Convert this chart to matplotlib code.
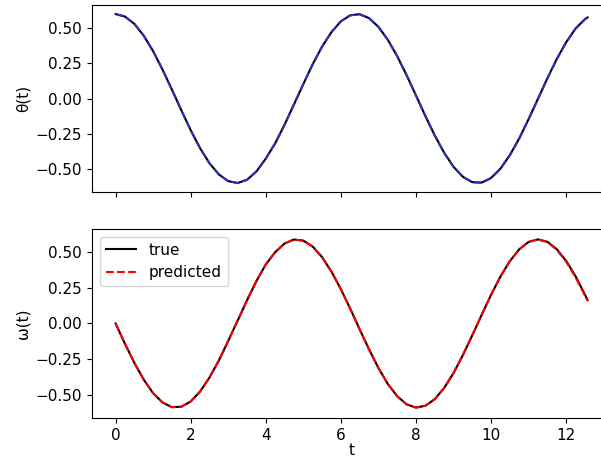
import matplotlib
matplotlib.use('Agg')
import matplotlib.pyplot as plt

# time samples and values
t = [0.0, 0.25, 0.5, 0.75, 1.0, 1.25, 1.5, 1.75, 2.0, 2.25, 2.5, 2.75, 3.0,
     3.25, 3.5, 3.75, 4.0, 4.25, 4.5, 4.75, 5.0, 5.25, 5.5, 5.75, 6.0, 6.25,
     6.5, 6.75, 7.0, 7.25, 7.5, 7.75, 8.0, 8.25, 8.5, 8.75, 9.0, 9.25, 9.5,
     9.75, 10.0, 10.25, 10.5, 10.75, 11.0, 11.25, 11.5, 11.75, 12.0, 12.25,
     12.5, 12.57]

theta_true = [0.600, 0.582, 0.530, 0.446, 0.336, 0.205, 0.063, -0.083, -0.225,
              -0.353, -0.460, -0.539, -0.587, -0.600, -0.577, -0.518, -0.427,
              -0.318, -0.186, -0.042, 0.103, 0.244, 0.369, 0.472, 0.548, 0.591,
              0.599, 0.571, 0.509, 0.417, 0.301, 0.166, 0.022, -0.124, -0.262,
              -0.385, -0.485, -0.556, -0.594, -0.597, -0.564, -0.498, -0.402,
              -0.283, -0.146, -0.001, 0.144, 0.281, 0.400, 0.497, 0.564, 0.576]

omega_true = [0.000, -0.143, -0.277, -0.395, -0.490, -0.555, -0.588, -0.585,
              -0.548, -0.478, -0.380, -0.260, -0.122, 0.020, 0.163, 0.298,
              0.415, 0.501, 0.562, 0.590, 0.582, 0.540, 0.466, 0.364, 0.241,
              0.103, -0.041, -0.182, -0.313, -0.425, -0.511, -0.568, -0.591,
              -0.578, -0.532, -0.453, -0.348, -0.222, -0.083, 0.061, 0.201,
              0.330, 0.438, 0.521, 0.573, 0.591, 0.574, 0.522, 0.440, 0.332,
              0.203, 0.165]

# predictions overlap the true curves almost exactly
theta_pred = [0.600, 0.582, 0.530, 0.446, 0.336, 0.205, 0.063, -0.083, -0.225,
              -0.353, -0.460, -0.539, -0.587, -0.600, -0.577, -0.518, -0.427,
              -0.318, -0.186, -0.042, 0.103, 0.244, 0.369, 0.472, 0.548, 0.591,
              0.598, 0.570, 0.508, 0.416, 0.300, 0.165, 0.021, -0.125, -0.263,
              -0.386, -0.486, -0.557, -0.595, -0.598, -0.566, -0.500, -0.404,
              -0.285, -0.148, -0.003, 0.142, 0.279, 0.398, 0.495, 0.562, 0.574]

omega_pred = [0.000, -0.143, -0.277, -0.395, -0.490, -0.555, -0.588, -0.585,
              -0.548, -0.478, -0.380, -0.260, -0.122, 0.020, 0.163, 0.298,
              0.415, 0.501, 0.562, 0.590, 0.582, 0.540, 0.466, 0.364, 0.241,
              0.103, -0.041, -0.182, -0.313, -0.425, -0.511, -0.568, -0.591,
              -0.578, -0.532, -0.453, -0.348, -0.222, -0.083, 0.061, 0.201,
              0.330, 0.438, 0.521, 0.573, 0.590, 0.572, 0.518, 0.434, 0.325,
              0.196, 0.158]

plt.rcParams['font.size'] = 11

fig = plt.figure(figsize=(6.01, 4.61), dpi=100)
ax1 = fig.add_axes([0.153, 0.5835, 0.864, 0.4056])
ax2 = fig.add_axes([0.153, 0.0933, 0.864, 0.41], sharex=ax1)

ax1.plot(t, theta_true, 'k-', lw=1.5)
ax1.plot(t, theta_pred, '--', color='#3030c0', lw=1.5)
ax1.set_ylabel('θ(t)')
ax1.tick_params(labelbottom=False)

ax2.plot(t, omega_true, 'k-', lw=1.5, label='true')
ax2.plot(t, omega_pred, 'r--', lw=1.5, label='predicted')
ax2.set_ylabel('ω(t)')
ax2.set_xlabel('t', labelpad=0)
ax2.legend(loc='upper left')

ax1.set_xlim(-0.63, 13.2)
for ax in (ax1, ax2):
    ax.set_ylim(-0.664, 0.664)
    ax.set_yticks([-0.5, -0.25, 0.0, 0.25, 0.5])
ax2.set_xticks([0, 2, 4, 6, 8, 10, 12])

fig.savefig('out.png', dpi=100)
